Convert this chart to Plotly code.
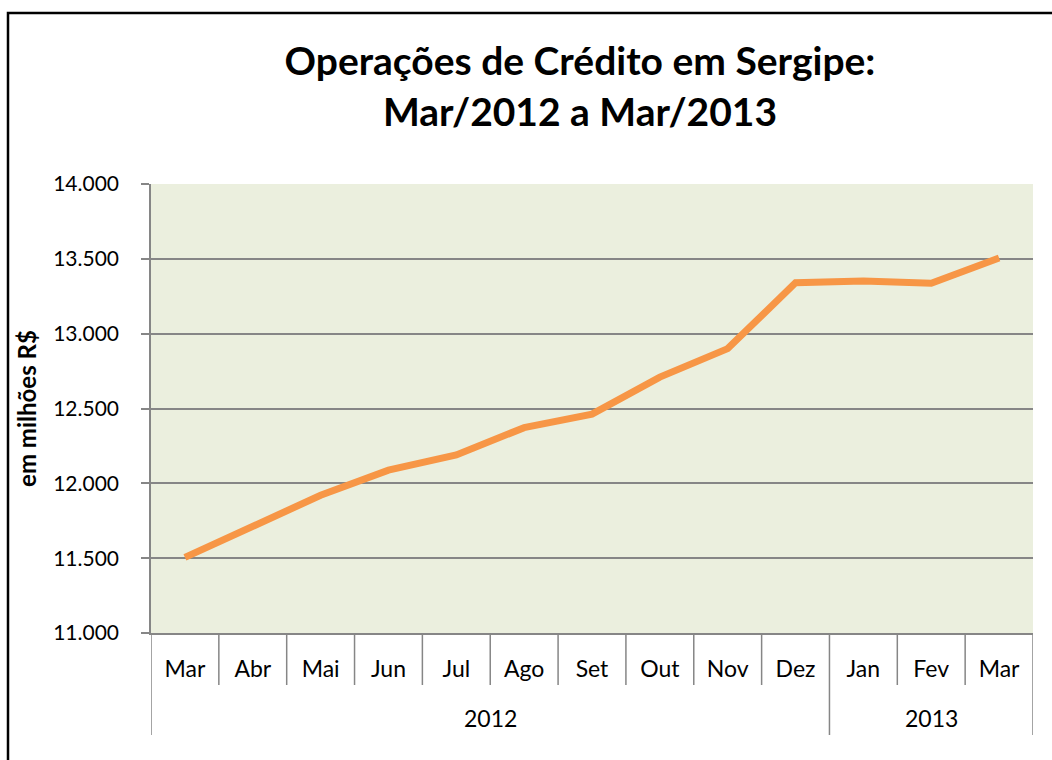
import plotly.graph_objects as go

years = ["2012"] * 10 + ["2013"] * 3
months = ["Mar", "Abr", "Mai", "Jun", "Jul", "Ago", "Set", "Out", "Nov", "Dez", "Jan", "Fev", "Mar"]
values = [11505, 11715, 11920, 12088, 12190, 12372, 12462, 12710, 12900, 13340, 13352, 13337, 13505]
y_ticks = [11000, 11500, 12000, 12500, 13000, 13500, 14000]

title_text = "<b>Operações de Crédito em Sergipe:<br>Mar/2012 a Mar/2013</b>"
y_title = "<b>em milhões R$</b>"

FONT = "Lato"
GRID = "#868686"

# plot area in pixels
L, R, T, B = 151, 1033, 184, 633
W, H = 1052, 760
PH = B - T

idx = list(range(len(months)))

fig = go.Figure()
fig.add_trace(go.Scatter(
    x=idx, y=values, mode="lines",
    line=dict(color="#F79646", width=7),
    showlegend=False, hoverinfo="skip",
))

fig.update_layout(
    width=W, height=H,
    margin=dict(l=L, r=W - R, t=T, b=H - B, autoexpand=False),
    paper_bgcolor="white", plot_bgcolor="#EBEFDE",
    separators=",.",
    font=dict(family=FONT, color="black", size=21),
    title=dict(text=title_text, x=580 / W, xanchor="center", xref="container",
               y=1 - 75 / H, yanchor="top", yref="container",
               font=dict(family=FONT, size=39, color="black")),
    xaxis=dict(
        range=[-0.5, len(months) - 0.5], showgrid=False, zeroline=False,
        showline=True, linecolor=GRID, linewidth=1.5,
        tickmode="array", tickvals=idx, ticktext=months, ticks="",
        ticklabelstandoff=15,
        tickfont=dict(family=FONT, size=23, color="black"),
    ),
    yaxis=dict(
        range=[y_ticks[0], y_ticks[-1]], tickvals=y_ticks,
        tickformat=",.0f",
        showgrid=True, gridcolor=GRID, gridwidth=1.5,
        showline=True, linecolor=GRID, linewidth=1.5,
        ticks="outside", ticklen=8, tickcolor=GRID, tickwidth=1.5,
        ticklabelstandoff=18,
        tickfont=dict(family=FONT, size=21, color="black"),
        title=dict(text=y_title, standoff=10, font=dict(family=FONT, size=24, color="black")),
        zeroline=False,
    ),
)

# month separators (short) and year dividers (long) below the axis
short_len = (685 - B) / PH
long_len = (735 - B) / PH
bounds = [i - 0.5 for i in range(len(months) + 1)]
year_starts = [0] + [i for i in range(1, len(years)) if years[i] != years[i - 1]]
year_bounds = set(year_starts + [len(years)])
for i, bx in enumerate(bounds):
    ln = long_len if i in year_bounds else short_len
    fig.add_shape(type="line", xref="x", yref="paper", x0=bx, x1=bx, y0=0, y1=-ln,
                  line=dict(color=GRID, width=1.5))

# year labels centred under each group
edges = year_starts + [len(years)]
for a, b in zip(edges[:-1], edges[1:]):
    fig.add_annotation(x=(a + b - 1) / 2, xref="x", y=-(718 - B) / PH, yref="paper",
                       text=years[a], showarrow=False, yanchor="middle",
                       font=dict(family=FONT, size=23, color="black"))

# outer chart border
fig.add_shape(type="rect", xref="paper", yref="paper",
              x0=(8 - L) / (R - L), x1=1.2, y0=-0.6, y1=(B - 13) / PH,
              line=dict(color="black", width=2.5), fillcolor="rgba(0,0,0,0)", layer="below")

fig.write_html("out.html", config={"displayModeBar": False},
               post_script="document.body.style.margin='0px';")
